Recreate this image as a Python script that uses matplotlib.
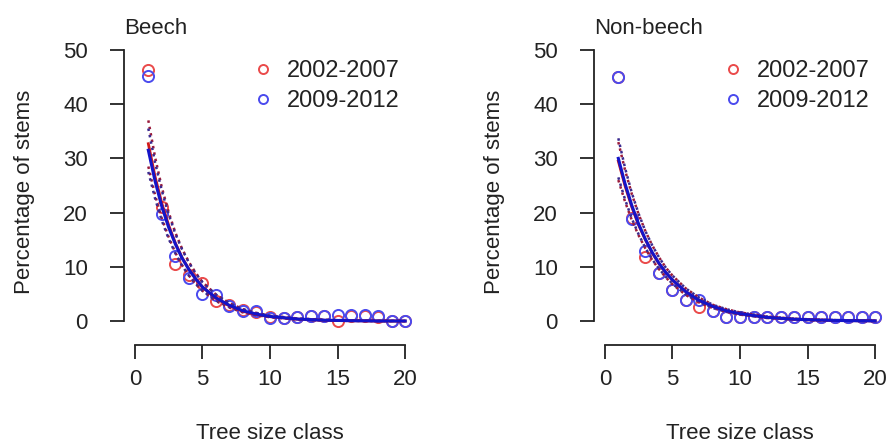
import matplotlib
matplotlib.use("Agg")
import matplotlib.pyplot as plt
from matplotlib.lines import Line2D

plt.rcParams['font.family'] = ['Liberation Sans', 'DejaVu Sans']

# ---------------- data ----------------
size_class = list(range(1, 21))

beech_2002 = [46.2, 21.0, 10.6, 8.5, 7.0, 3.7, 3.0, 2.0, 1.6, 0.7,
              0.6, 0.7, 0.9, 1.0, 0.0, 1.0, 1.0, 0.8, 0.1, 0.0]
beech_2009 = [45.1, 19.8, 12.0, 8.0, 5.0, 4.9, 2.7, 1.8, 1.8, 0.5,
              0.5, 0.7, 0.9, 1.0, 1.1, 1.1, 1.1, 0.9, 0.1, 0.1]

nonbeech_2002 = [45.0, 19.0, 11.8, 8.9, 5.8, 3.9, 2.6, 1.9, 0.8, 0.8,
                 0.8, 0.8, 0.8, 0.8, 0.8, 0.8, 0.8, 0.8, 0.8, 0.8]
nonbeech_2009 = [45.0, 18.9, 13.0, 8.9, 5.8, 3.9, 3.9, 1.9, 0.8, 0.8,
                 0.8, 0.8, 0.8, 0.8, 0.8, 0.8, 0.8, 0.8, 0.8, 0.8]

# fitted curves
fit_x = [1, 1.5, 2, 2.5, 3, 3.5, 4, 4.5, 5, 6, 7, 8, 9, 10, 12, 14, 16, 18, 20]

beech_fit_2002 = [32.7, 26.6, 21.7, 17.7, 14.4, 11.7, 9.6, 7.8, 6.3, 4.2,
                  2.8, 1.8, 1.2, 0.82, 0.36, 0.16, 0.07, 0.03, 0.01]
beech_fit_2009 = [31.5, 25.8, 21.1, 17.3, 14.2, 11.6, 9.5, 7.8, 6.3, 4.3,
                  2.9, 1.9, 1.3, 0.86, 0.39, 0.17, 0.08, 0.03, 0.02]
beech_up_2002 = [37.0, 30.2, 24.6, 20.1, 16.3, 13.3, 10.9, 8.9, 7.2, 4.9,
                 3.3, 2.2, 1.5, 1.0, 0.5, 0.25, 0.12, 0.06, 0.03]
beech_lo_2002 = [28.5, 23.2, 18.9, 15.5, 12.6, 10.3, 8.4, 6.9, 5.6, 3.7,
                 2.5, 1.6, 1.1, 0.72, 0.30, 0.12, 0.05, 0.02, 0.01]
beech_up_2009 = [35.5, 29.2, 24.0, 19.7, 16.1, 13.2, 10.8, 8.8, 7.2, 4.9,
                 3.3, 2.2, 1.5, 1.0, 0.48, 0.23, 0.11, 0.05, 0.03]
beech_lo_2009 = [27.5, 22.6, 18.5, 15.2, 12.5, 10.2, 8.4, 6.9, 5.6, 3.8,
                 2.6, 1.7, 1.1, 0.75, 0.32, 0.13, 0.05, 0.02, 0.01]

nonbeech_fit_2002 = [29.5, 24.9, 21.0, 17.7, 15.0, 12.6, 10.6, 9.0, 7.6, 5.4,
                     3.8, 2.7, 1.9, 1.36, 0.69, 0.35, 0.18, 0.09, 0.05]
nonbeech_fit_2009 = [30.0, 25.3, 21.3, 17.9, 15.1, 12.7, 10.7, 9.0, 7.6, 5.4,
                     3.8, 2.7, 1.9, 1.37, 0.69, 0.35, 0.18, 0.09, 0.05]
nonbeech_up_2002 = [33.0, 27.8, 23.4, 19.7, 16.6, 14.0, 11.8, 9.9, 8.4, 6.0,
                    4.3, 3.0, 2.2, 1.6, 0.85, 0.45, 0.25, 0.14, 0.08]
nonbeech_lo_2002 = [26.0, 22.0, 18.6, 15.8, 13.4, 11.3, 9.6, 8.1, 6.8, 4.8,
                    3.4, 2.4, 1.7, 1.2, 0.58, 0.28, 0.13, 0.06, 0.03]
nonbeech_up_2009 = [33.7, 28.2, 23.6, 19.8, 16.6, 14.0, 11.8, 9.9, 8.4, 6.0,
                    4.3, 3.0, 2.2, 1.6, 0.85, 0.45, 0.25, 0.14, 0.08]
nonbeech_lo_2009 = [26.5, 22.4, 18.9, 16.0, 13.5, 11.4, 9.7, 8.2, 6.9, 4.9,
                    3.5, 2.4, 1.7, 1.2, 0.58, 0.28, 0.13, 0.06, 0.03]

panel_titles = ["Beech", "Non-beech"]
legend_labels = ["2002-2007", "2009-2012"]
x_ticks = [0, 5, 10, 15, 20]
y_ticks = [0, 10, 20, 30, 40, 50]

# ---------------- style ----------------
RED_PT = "#ea4a4a"
BLUE_PT = "#4a4aee"
RED_LN = "#d01818"
BLUE_LN = "#1414c8"
RED_BAND = "#9b1b3b"
BLUE_BAND = "#3a2a8f"
TXT = "#222222"

W, H = 892, 446
fig = plt.figure(figsize=(W / 100, H / 100), dpi=100)

panels = [
    dict(left=124, data=(beech_2002, beech_2009),
         fits=(beech_fit_2002, beech_fit_2009),
         bands=((beech_up_2002, beech_lo_2002), (beech_up_2009, beech_lo_2009))),
    dict(left=594, data=(nonbeech_2002, nonbeech_2009),
         fits=(nonbeech_fit_2002, nonbeech_fit_2009),
         bands=((nonbeech_up_2002, nonbeech_lo_2002), (nonbeech_up_2009, nonbeech_lo_2009))),
]

ax_w = 292
top_px, bot_px = 39, 345

for i, p in enumerate(panels):
    ax = fig.add_axes([p['left'] / W, (H - bot_px) / H, ax_w / W, (bot_px - top_px) / H])
    ax.set_xlim(-0.8, 20.8)
    ax.set_ylim(-4.4, 52.0)

    # points
    ax.plot(size_class, p['data'][0], linestyle='none', marker='o', markersize=8,
            markerfacecolor='none', markeredgecolor=RED_PT, markeredgewidth=1.4, zorder=2)
    ax.plot(size_class, p['data'][1], linestyle='none', marker='o', markersize=8,
            markerfacecolor='none', markeredgecolor=BLUE_PT, markeredgewidth=1.4, zorder=2)

    # bands (dotted)
    for (up, lo), col in zip(p['bands'], (RED_BAND, BLUE_BAND)):
        ax.plot(fit_x, up, color=col, linestyle=(0, (1, 1.6)), linewidth=1.8, zorder=3)
        ax.plot(fit_x, lo, color=col, linestyle=(0, (1, 1.6)), linewidth=1.8, zorder=3)

    # fitted lines
    ax.plot(fit_x, p['fits'][0], color=RED_LN, linewidth=2.0, zorder=4)
    ax.plot(fit_x, p['fits'][1], color=BLUE_LN, linewidth=2.2, zorder=5)

    # R-style axes
    for s in ('top', 'right'):
        ax.spines[s].set_visible(False)
    ax.spines['left'].set_bounds(0, 50)
    ax.spines['bottom'].set_bounds(0, 20)
    for s in ('left', 'bottom'):
        ax.spines[s].set_linewidth(1.3)
        ax.spines[s].set_color(TXT)
    ax.set_xticks(x_ticks)
    ax.set_yticks(y_ticks)
    ax.tick_params(axis='both', direction='out', length=10, width=1.3, color=TXT,
                   labelsize=16, labelcolor=TXT)
    ax.tick_params(axis='x', pad=7)
    ax.tick_params(axis='y', pad=16)

    ax.set_ylabel("Percentage of stems", fontsize=16, color=TXT, labelpad=20)
    ax.set_xlabel("Tree size class", fontsize=16, color=TXT, labelpad=24)
    ax.set_title(panel_titles[i], loc='left', fontsize=16, color=TXT, pad=3, x=0.0)

    handles = [Line2D([], [], linestyle='none', marker='o', markersize=6.5,
                      markerfacecolor='none', markeredgecolor=c, markeredgewidth=1.4)
               for c in (RED_PT, BLUE_PT)]
    ax.legend(handles, legend_labels, loc='upper right', bbox_to_anchor=(1.0, 0.985),
              frameon=False, fontsize=17, handletextpad=0.4, handlelength=1.2,
              labelspacing=0.35, borderpad=0.2, labelcolor=TXT)

fig.savefig("out.png", dpi=100)
